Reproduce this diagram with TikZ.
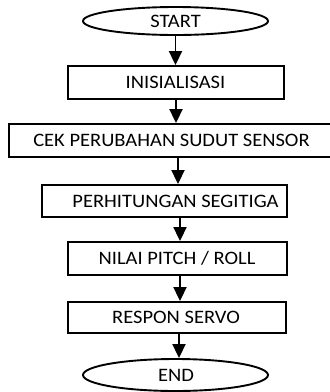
\documentclass[tikz,border=0pt]{standalone}
\usepackage{fontspec}
\setmainfont{Carlito}
\usetikzlibrary{shapes.geometric,arrows.meta}
\tikzset{
  box/.style={draw=black, line width=1.9pt, rectangle, inner sep=0pt},
  term/.style={draw=black, line width=1.9pt, ellipse, inner sep=0pt, minimum width=185pt},
  lbl/.style={inner sep=0pt, font=\fontsize{19}{21}\selectfont},
  arr/.style={line width=1.9pt, -{Triangle[width=13pt,length=14pt]}}
}
\newcommand{\hs}[1]{\scalebox{1.08}[1]{#1}}
\begin{document}
\begin{tikzpicture}[x=1pt,y=-1pt]
\useasboundingbox (0,0) rectangle (330,392);
% shapes
\node[term, minimum height=28pt] (start) at (175.5,21) {};
\node[box, minimum width=216pt, minimum height=33pt] (inis) at (176,82.5) {};
\node[box, minimum width=327pt, minimum height=33pt] (cek) at (172.5,140.5) {};
\node[box, minimum width=245pt, minimum height=32pt] (perh) at (164.5,201) {};
\node[box, minimum width=219pt, minimum height=33pt] (nilai) at (177.5,258.5) {};
\node[box, minimum width=218pt, minimum height=31pt] (respon) at (177,317.5) {};
\node[term, minimum height=32pt] (end) at (175.5,375) {};
% texts
\node[lbl] (startT) at (175.5,21) {\hs{START}};
\node[lbl] (inisT) at (175.5,82.5) {\hs{INISIALISASI}};
\node[lbl] (cekT) at (171.5,140.5) {\hs{CEK PERUBAHAN SUDUT SENSOR}};
\node[lbl] (perhT) at (175.5,201) {\hs{PERHITUNGAN SEGITIGA}};
\node[lbl] (nilaiT) at (177,258.5) {\hs{NILAI PITCH / ROLL}};
\node[lbl] (responT) at (176,317.5) {\hs{RESPON SERVO}};
\node[lbl] (endT) at (176,375) {\hs{END}};
% arrows
\draw[arr] (start.south) -- (start.south |- inis.north);
\draw[arr] (inis.south) -- (inis.south |- cek.north);
\draw[arr] ([xshift=5.5pt]cek.south) -- ([xshift=5.5pt]cek.south |- perh.north);
\draw[arr] ([xshift=15.5pt]perh.south) -- ([xshift=15.5pt]perh.south |- nilai.north);
\draw[arr] ([xshift=2.5pt]nilai.south) -- ([xshift=2.5pt]nilai.south |- respon.north);
\draw[arr] ([xshift=2pt]respon.south) -- ([xshift=2pt]respon.south |- end.north);
\end{tikzpicture}
\end{document}
